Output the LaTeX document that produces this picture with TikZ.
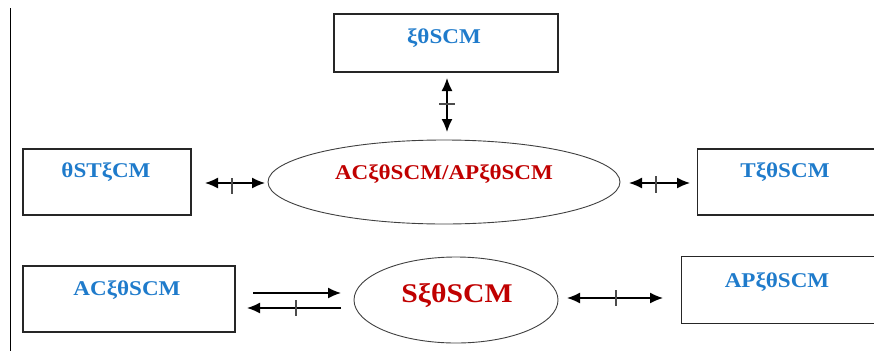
\documentclass[tikz,border=0pt]{standalone}
\usepackage{fontspec}
\setmainfont[FakeStretch=1.1]{Liberation Serif}
\usetikzlibrary{arrows.meta,shapes.geometric}
\definecolor{tblue}{HTML}{1F7BCB}
\definecolor{tred}{HTML}{C00000}
\begin{document}
\begin{tikzpicture}[x=1pt,y=-1pt,
  box/.style={draw=black!85,line width=1.1pt,inner sep=0pt},
  oval/.style={draw=black!75,line width=0.9pt,ellipse,inner sep=0pt},
  btxt/.style={font=\fontsize{21}{24}\bfseries\selectfont,text=tblue,inner sep=0pt},
  rtxt/.style={font=\fontsize{21}{24}\bfseries\selectfont,text=tred,inner sep=0pt},
  conn/.style={line width=1.4pt,-{Latex[length=13pt,width=11pt]}},
  biconn/.style={line width=1.4pt,{Latex[length=13pt,width=11pt]}-{Latex[length=13pt,width=11pt]}},
  tick/.style={line width=1.1pt,draw=black!70}]
\useasboundingbox (0,0) rectangle (874,351);
\draw[line width=0.9pt] (10,8) -- (10,351);
% boxes
\node[box,minimum width=224pt,minimum height=58pt] (top) at (446,43) {};
\node[btxt] at (444,38) {ξθSCM};
\node[box,minimum width=168pt,minimum height=66pt] (lbox) at (107,182) {};
\node[btxt] at (106,172) {θSTξCM};
\node[box,minimum width=178pt,minimum height=66pt,anchor=west] (rbox) at (697,182) {};
\node[btxt] at (785,172) {TξθSCM};
\node[box,minimum width=212pt,minimum height=66pt] (acbox) at (129,299) {};
\node[btxt] at (127,290) {ACξθSCM};
\node[box,minimum width=195pt,minimum height=67pt,anchor=west] (apbox) at (681,290) {};
\node[btxt] at (777,282) {APξθSCM};
% ellipses
\node[oval,minimum width=352pt,minimum height=84pt] (big) at (444,182) {};
\node[rtxt] at (444,174) {ACξθSCM/APξθSCM};
\node[oval,minimum width=204pt,minimum height=86pt] (s) at (456,300) {};
\node[rtxt,font=\fontsize{27}{30}\bfseries\selectfont] at (457,296) {SξθSCM};
% connectors
\coordinate (t1) at (447,78); \coordinate (t2) at (447,132);
\draw[biconn] (t1) -- (t2);
\draw[tick] (439,104) -- (455,104);
\coordinate (l1) at (205,183); \coordinate (l2) at (265,183);
\draw[biconn] (l1) -- (l2);
\draw[tick] (232,178) -- (232,194);
\coordinate (r1) at (629,183); \coordinate (r2) at (690,183);
\draw[biconn] (r1) -- (r2);
\draw[tick] (656,176) -- (656,193);
\coordinate (a1) at (253,293); \coordinate (a2) at (341,293);
\draw[conn] (a1) -- (a2);
\coordinate (b1) at (341,308); \coordinate (b2) at (247,308);
\draw[conn] (b1) -- (b2);
\draw[tick] (296,300) -- (296,316);
\coordinate (c1) at (567,298); \coordinate (c2) at (663,298);
\draw[biconn] (c1) -- (c2);
\draw[tick] (616,290) -- (616,306);
\end{tikzpicture}
\end{document}
